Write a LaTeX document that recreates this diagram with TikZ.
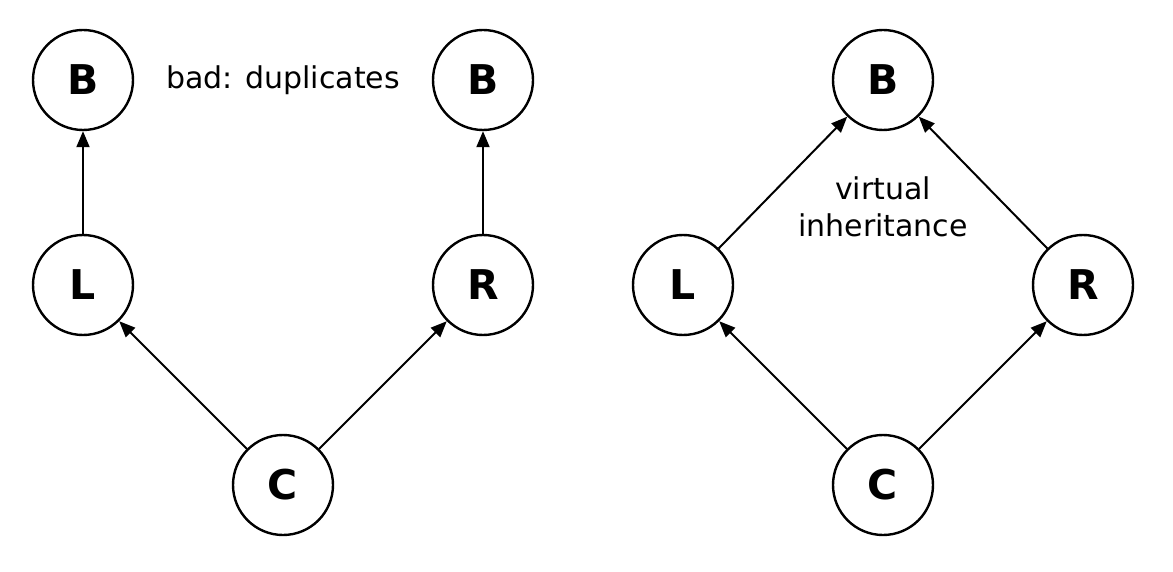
\documentclass[tikz,border=0pt]{standalone}
\usepackage{fontspec}
\setmainfont{DejaVu Sans}
\usetikzlibrary{arrows.meta}
\begin{document}
\begin{tikzpicture}[x=1pt,y=-1pt,
  cls/.style={circle,draw,line width=2.4pt,minimum size=100pt,inner sep=0pt,
    font=\fontsize{41}{48}\selectfont\bfseries},
  inh/.style={line width=2pt,-{Triangle[length=16pt,width=13pt]}},
  note/.style={font=\fontsize{30}{37}\selectfont,align=center}]
\useasboundingbox (0,0) rectangle (1173,572);
% duplicated base classes
\node[cls] (b1) at (83,80) {B};
\node[cls] (b2) at (483,80) {B};
\node[cls] (l1) at (83,285) {L};
\node[cls] (r1) at (483,285) {R};
\node[cls] (c1) at (283,485) {C};
\node[note] (n1) at (283,80) {bad: duplicates};
\draw[inh] (l1) -- (b1);
\draw[inh] (r1) -- (b2);
\draw[inh] (c1) -- (l1);
\draw[inh] (c1) -- (r1);
% shared virtual base
\node[cls] (b3) at (883,80) {B};
\node[cls] (l2) at (683,285) {L};
\node[cls] (r2) at (1083,285) {R};
\node[cls] (c2) at (883,485) {C};
\node[note] (n2) at (883,207) {virtual\\inheritance};
\draw[inh] (l2) -- (b3);
\draw[inh] (r2) -- (b3);
\draw[inh] (c2) -- (l2);
\draw[inh] (c2) -- (r2);
\end{tikzpicture}
\end{document}
